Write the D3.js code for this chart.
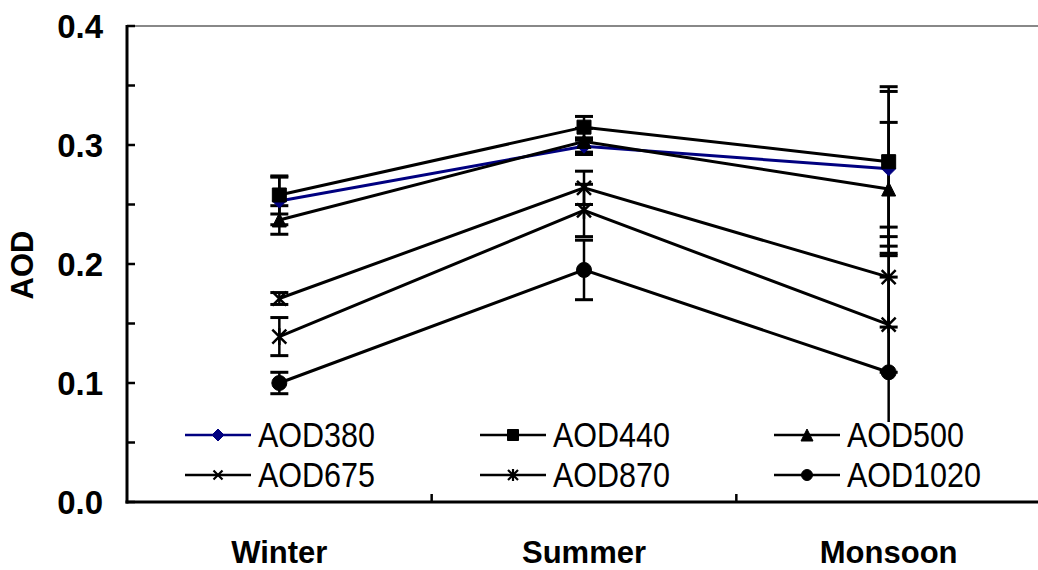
<!DOCTYPE html>
<html><head><meta charset="utf-8">
<script src="https://cdn.jsdelivr.net/npm/d3@7"></script>
<style>html,body{margin:0;padding:0;background:#fff;}svg{display:block;}</style>
</head><body>
<svg id="chart" width="1038" height="570"></svg>
<script>
const categories = ["Winter", "Summer", "Monsoon"];
const seriesNames = ["AOD380", "AOD440", "AOD500", "AOD675", "AOD870", "AOD1020"];
const aod380 = [0.253, 0.299, 0.280];
const aod440 = [0.258, 0.315, 0.286];
const aod500 = [0.237, 0.303, 0.263];
const aod675 = [0.171, 0.264, 0.189];
const aod870 = [0.139, 0.245, 0.149];
const aod1020 = [0.100, 0.195, 0.109];
const err380 = [0.020, 0.005, 0.065];
const err440 = [0.016, 0.009, 0.063];
const err500 = [0.012, 0.011, 0.056];
const err675 = [0.005, 0.014, 0.042];
const err870 = [0.016, 0.022, 0.040];
const err1020 = [0.009, 0.025, 0.100];
const yTicks = [0.0, 0.1, 0.2, 0.3, 0.4];
const yMinorTicks = [0.05, 0.15, 0.25, 0.35];

(function () {
const seriesValues = [aod380, aod440, aod500, aod675, aod870, aod1020];
const seriesErrors = [err380, err440, err500, err675, err870, err1020];
const markerTypes = ["diamond", "square", "triangle", "cross", "asterisk", "circle"];
const colors = ["#000080", "#000", "#000", "#000", "#000", "#000"];
const fills = ["#000080", "#000", "#000", "#000", "#000", "#000"];

const svg = d3.select("#chart");
const mLeft = 127, mRight = 1041, mTop = 26, mBottom = 502;
const x = d3.scaleBand().domain(categories).range([mLeft, mRight]);
const y = d3.scaleLinear().domain([0, 0.4]).range([mBottom, mTop]);
const cx = c => x(c) + x.bandwidth() / 2;

function markerPath(type, s) {
  const h = s / 2;
  switch (type) {
    case "diamond": return `M0,${-h}L${h},0L0,${h}L${-h},0Z`;
    case "square": return `M${-h},${-h}H${h}V${h}H${-h}Z`;
    case "triangle": return `M0,${-h}L${h},${h}L${-h},${h}Z`;
    case "circle": return `M${h},0A${h},${h} 0 1,1 ${-h},0A${h},${h} 0 1,1 ${h},0Z`;
    case "cross": return `M${-h},${-h}L${h},${h}M${-h},${h}L${h},${-h}`;
    case "asterisk": return `M${-h},${-h}L${h},${h}M${-h},${h}L${h},${-h}M0,${-h*1.2}V${h*1.2}`;
  }
}
const lineMarker = t => t === "cross" || t === "asterisk";

svg.append("line").attr("x1", mLeft).attr("x2", 1038).attr("y1", mTop).attr("y2", mTop)
  .attr("stroke", "#888").attr("stroke-width", 2);

const plot = svg.append("g");
seriesNames.forEach((name, i) => {
  categories.forEach((c, j) => {
    const v = seriesValues[i][j], e = seriesErrors[i][j];
    const px = cx(c);
    plot.append("line").attr("x1", px).attr("x2", px).attr("y1", y(v + e)).attr("y2", y(v - e))
      .attr("stroke", "#000").attr("stroke-width", 2.5);
    [v + e, v - e].forEach(b => {
      plot.append("line").attr("x1", px - 9).attr("x2", px + 9).attr("y1", y(b)).attr("y2", y(b))
        .attr("stroke", "#000").attr("stroke-width", 3);
    });
  });
});

const line = d3.line().x(d => cx(d.c)).y(d => y(d.v));
seriesNames.forEach((name, i) => {
  const pts = categories.map((c, j) => ({ c, v: seriesValues[i][j] }));
  plot.append("path").attr("d", line(pts)).attr("fill", "none")
    .attr("stroke", colors[i]).attr("stroke-width", 3);
});
seriesNames.forEach((name, i) => {
  const t = markerTypes[i];
  categories.forEach((c, j) => {
    const p = plot.append("path").attr("d", markerPath(t, t === "circle" ? 15 : 14))
      .attr("transform", `translate(${cx(c)},${y(seriesValues[i][j])})`);
    if (lineMarker(t)) p.attr("fill", "none").attr("stroke", "#000").attr("stroke-width", 2.5);
    else p.attr("fill", fills[i]).attr("stroke", fills[i]).attr("stroke-width", 1);
  });
});

const lg = svg.append("g");
lg.append("rect").attr("x", 176).attr("y", 422).attr("width", 850).attr("height", 72.5).attr("fill", "#fff");
const colX = [185, 480, 774];
const rowY = [435, 475];
seriesNames.forEach((name, i) => {
  const col = i % 3, row = Math.floor(i / 3);
  const x0 = colX[col], yy = rowY[row];
  lg.append("line").attr("x1", x0).attr("x2", x0 + 66).attr("y1", yy).attr("y2", yy)
    .attr("stroke", colors[i]).attr("stroke-width", 2.5);
  const t = markerTypes[i];
  const sz = { diamond: 12, square: 11, triangle: 12, cross: 9, asterisk: 10, circle: 11 }[t];
  const p = lg.append("path").attr("d", markerPath(t, sz)).attr("transform", `translate(${x0 + 33},${yy})`);
  if (lineMarker(t)) p.attr("fill", "none").attr("stroke", "#000").attr("stroke-width", 2.2);
  else p.attr("fill", fills[i]).attr("stroke", fills[i]);
  lg.append("text").attr("transform", `translate(${x0 + 73},${yy + 12}) scale(1,1.13)`)
    .attr("font-family", "Liberation Sans, Arial, sans-serif").attr("font-size", 30.5)
    .attr("fill", "#000").text(name);
});

svg.append("line").attr("x1", mLeft).attr("x2", mLeft).attr("y1", mTop - 1).attr("y2", mBottom + 1.5)
  .attr("stroke", "#000").attr("stroke-width", 3);
yTicks.concat(yMinorTicks).forEach(t => {
  svg.append("line").attr("x1", mLeft).attr("x2", mLeft + 8).attr("y1", y(t)).attr("y2", y(t))
    .attr("stroke", "#000").attr("stroke-width", 2.5);
});
yTicks.forEach(t => {
  svg.append("text").attr("x", 103).attr("y", y(t) + 12).attr("text-anchor", "end")
    .attr("font-family", "Liberation Sans, Arial, sans-serif").attr("font-weight", "bold")
    .attr("font-size", 33).text(d3.format(".1f")(t));
});
svg.append("text").attr("transform", "translate(33,265) rotate(-90)").attr("text-anchor", "middle")
  .attr("font-family", "Liberation Sans, Arial, sans-serif").attr("font-weight", "bold")
  .attr("font-size", 31).text("AOD");

svg.append("line").attr("x1", mLeft - 1.5).attr("x2", 1038).attr("y1", mBottom).attr("y2", mBottom)
  .attr("stroke", "#000").attr("stroke-width", 3);
categories.slice(1).forEach(c => {
  svg.append("line").attr("x1", x(c)).attr("x2", x(c)).attr("y1", mBottom).attr("y2", mBottom - 8)
    .attr("stroke", "#000").attr("stroke-width", 2.5);
});
categories.forEach(c => {
  svg.append("text").attr("x", cx(c)).attr("y", 563).attr("text-anchor", "middle")
    .attr("font-family", "Liberation Sans, Arial, sans-serif").attr("font-weight", "bold")
    .attr("font-size", 31).text(c);
});
})();
</script>
</body></html>
